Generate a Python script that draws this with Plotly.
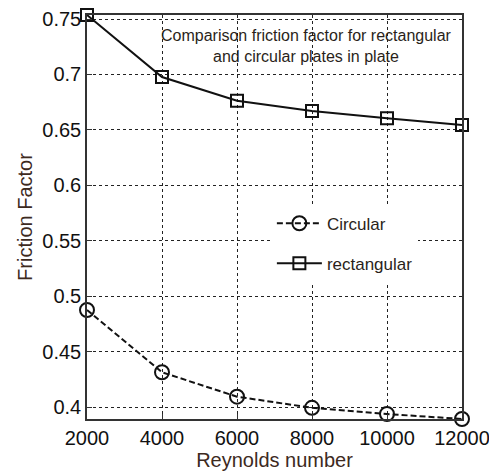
import plotly.graph_objects as go

reynolds = [2000, 4000, 6000, 8000, 10000, 12000]
circular = [0.4878, 0.4317, 0.4097, 0.3997, 0.3941, 0.3896]
rectangular = [0.7536, 0.6977, 0.6764, 0.6671, 0.6605, 0.6545]

x_ticks = [2000, 4000, 6000, 8000, 10000, 12000]
x_ticktext = ["2000", "4000", "6000", "8000", "10000", "12000"]
y_ticks = [0.4, 0.45, 0.5, 0.55, 0.6, 0.65, 0.7, 0.75]
y_ticktext = ["0.4", "0.45", "0.5", "0.55", "0.6", "0.65", "0.7", "0.75"]

title_text = "Comparison friction factor for rectangular<br>and circular plates in plate"

FONT = "Liberation Sans, Arial, sans-serif"
INK = "#111111"

fig = go.Figure()
fig.add_trace(go.Scatter(
    x=reynolds, y=circular, name="Circular", mode="lines+markers",
    legendgroup="a",
    line=dict(color=INK, width=2, dash="6px,3px"),
    marker=dict(symbol="circle-open", size=14, color=INK, line=dict(width=2)),
    cliponaxis=False,
))
fig.add_trace(go.Scatter(
    x=reynolds, y=rectangular, name="rectangular", mode="lines+markers",
    legendgroup="b",
    line=dict(color=INK, width=2),
    marker=dict(symbol="square-open", size=12, color=INK, line=dict(width=2)),
    cliponaxis=False,
))

fig.add_annotation(
    text=title_text, xref="paper", yref="paper", x=0.584, y=0.923,
    xanchor="center", yanchor="middle", showarrow=False,
    font=dict(family=FONT, size=16, color="#2a1f1a"),
)

# page body has an 8px default margin, so margins are offset to compensate
fig.update_layout(
    width=497, height=475,
    margin=dict(l=79, r=43, t=7, b=64),
    paper_bgcolor="white", plot_bgcolor="white",
    font=dict(family=FONT, color=INK),
    legend=dict(
        x=0.493, y=0.528, xanchor="left", yanchor="top",
        bgcolor="white", borderwidth=0, itemwidth=45,
        font=dict(family=FONT, size=17, color="#2a1f1a"),
        traceorder="grouped", tracegroupgap=15,
    ),
    showlegend=True,
)

axis_common = dict(
    showline=True, linecolor="#333333", linewidth=1.5, mirror=True,
    showgrid=True, gridcolor="#222222", gridwidth=1, griddash="3px,3px",
    zeroline=False, ticks="inside", ticklen=5, tickcolor="#333333",
    tickfont=dict(family=FONT, size=20, color=INK),
    automargin=False,
)

fig.update_xaxes(
    range=[2000, 12000], tickvals=x_ticks, ticktext=x_ticktext,
    title=dict(text="Reynolds number", font=dict(family=FONT, size=20, color="#3d2a1e"), standoff=2),
    **axis_common,
)
fig.update_yaxes(
    range=[0.3896, 0.7536], tickvals=y_ticks, ticktext=y_ticktext,
    title=dict(text="Friction Factor", font=dict(family=FONT, size=20, color="#3d2a1e"), standoff=4),
    **axis_common,
)

fig.write_html("out.html")
